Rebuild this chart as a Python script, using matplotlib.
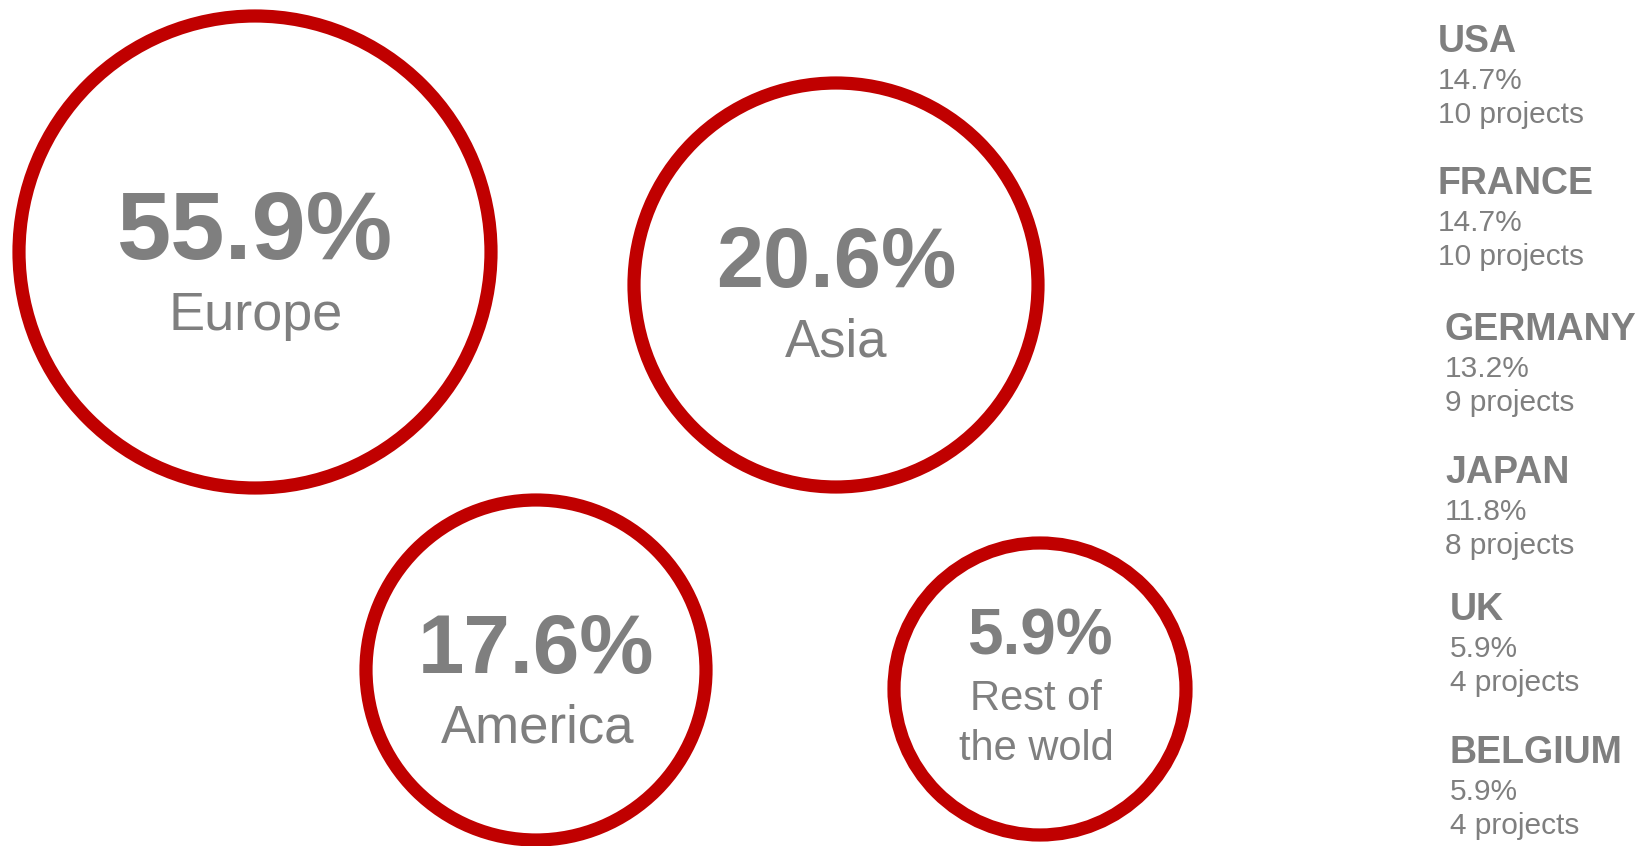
import matplotlib
matplotlib.use('Agg')
import matplotlib.pyplot as plt
from matplotlib.patches import Circle

# regions (bubbles)
regions = ['Europe', 'Asia', 'America', 'Rest of\nthe wold']
region_pct = [55.9, 20.6, 17.6, 5.9]

# countries (right hand list)
countries = ['USA', 'FRANCE', 'GERMANY', 'JAPAN', 'UK', 'BELGIUM']
country_pct = [14.7, 14.7, 13.2, 11.8, 5.9, 5.9]
country_projects = [10, 10, 9, 8, 4, 4]

# layout, in pixels of the 1649x846 picture
bub_x = [255, 836, 536, 1040]
bub_y = [252, 285, 670, 689]
bub_r = [236, 202, 170, 146]
pct_base = [259, 287, 673, 655]
pct_size = [70, 61, 60, 46]
name_x = [256, 836, 538, 1036]
name_base = [330, 356, 743, 710]
name_size = [39, 38, 38, 30]

list_x = [1438, 1438, 1445, 1445, 1450, 1450]
list_top = [52, 194, 340, 483, 620, 763]

RED = '#C00000'
GREY = '#7F7F7F'
plt.rcParams['font.family'] = ['Liberation Sans', 'DejaVu Sans']

fig = plt.figure(figsize=(16.49, 8.46), dpi=100)
ax = fig.add_axes([0, 0, 1, 1])
ax.set_xlim(0, 1649)
ax.set_ylim(846, 0)
ax.set_aspect('equal')
ax.axis('off')

for i, name in enumerate(regions):
    ax.add_patch(Circle((bub_x[i], bub_y[i]), bub_r[i], fill=False,
                        edgecolor=RED, linewidth=9.5))
    ax.text(bub_x[i], pct_base[i], '{}%'.format(region_pct[i]), ha='center',
            va='baseline', fontsize=pct_size[i], fontweight='bold', color=GREY)
    # multi-line names stacked by hand
    for j, ln in enumerate(name.split('\n')):
        ax.text(name_x[i], name_base[i] + j * 50, ln, ha='center',
                va='baseline', fontsize=name_size[i], color=GREY)

for i, c in enumerate(countries):
    y0 = list_top[i]
    ax.text(list_x[i], y0, c, ha='left', va='baseline', fontsize=27,
            fontweight='bold', color=GREY)
    ax.text(list_x[i], y0 + 37, '{}%'.format(country_pct[i]), ha='left',
            va='baseline', fontsize=21.5, color=GREY)
    ax.text(list_x[i], y0 + 71, '{} projects'.format(country_projects[i]),
            ha='left', va='baseline', fontsize=21.5, color=GREY)

plt.savefig('out.png', dpi=100)
